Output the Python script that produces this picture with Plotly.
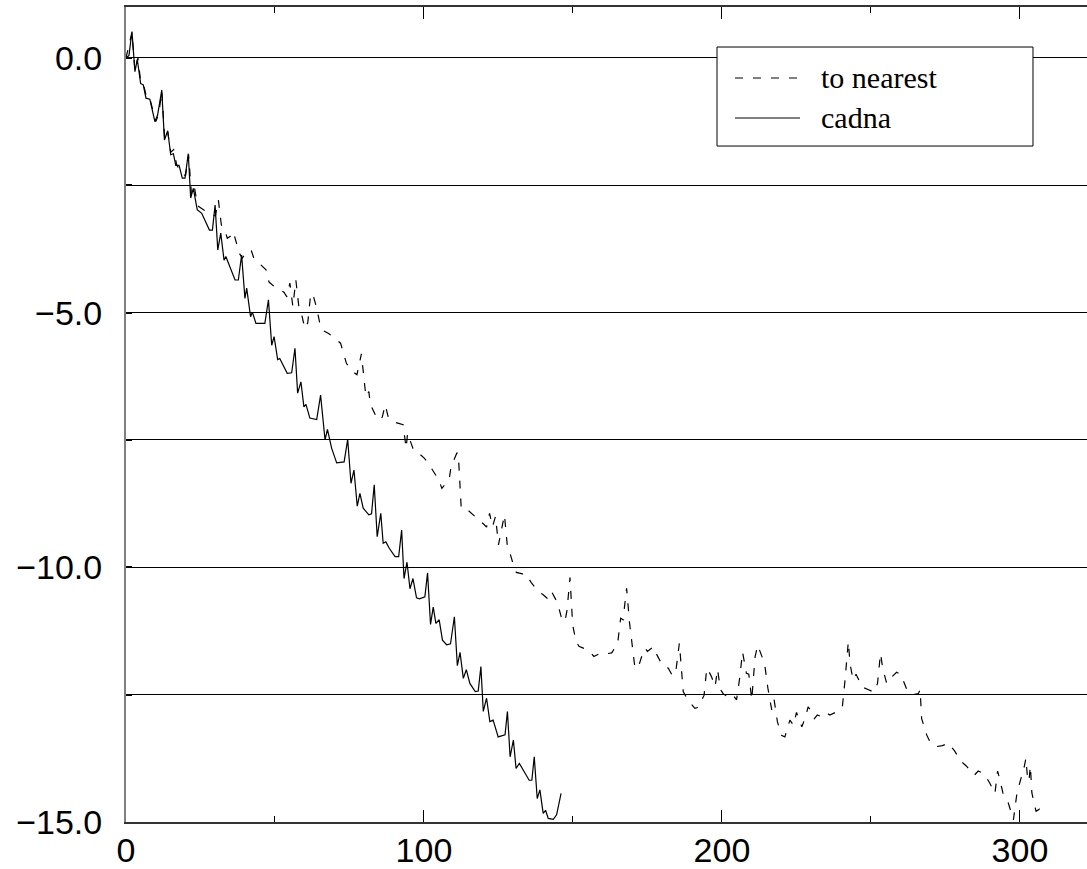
import plotly.graph_objects as go

# ---- data ----
cadna_x = [0, 1, 2, 3, 3.8, 4.9, 5.8, 6.7, 8, 9.7, 10.6, 12, 12.9, 14, 15, 15.9, 16.7, 17.8, 18.9, 19.8,
           20.9, 21.7, 22.6, 23.9, 25.4, 28, 29, 29.9, 30.8, 31.8, 32.9, 33.5, 36.6, 37.7, 38.8, 39.9,
           40.5, 41.8, 42.4, 43.6, 46.6, 47.8, 48.9, 49.7, 50.9, 51.6, 54.1, 55.6, 56.7, 57.6, 58.7,
           59.7, 60.4, 61.7, 64, 65.3, 66.8, 67.6, 69, 70.7, 73.2, 74.4, 75.5, 76.5, 77.6, 78.5, 79.6,
           81.5, 82.4, 83.3, 84.3, 85.5, 86.3, 87.2, 88.4, 90.3, 91.5, 92.5, 93.3, 94.3, 95.3, 96.3,
           97.5, 98.5, 100.3, 101.2, 102.2, 103.1, 104, 105.1, 106.2, 107.6, 108.9, 110.2, 111.2,
           112.1, 113.2, 114.2, 115.4, 117.2, 118.2, 119.1, 119.9, 121, 122.1, 123.2, 124.9, 127.2,
           128, 128.9, 130, 130.9, 132, 133.3, 135.3, 136.2, 137, 138, 138.9, 140, 140.8, 141.7,
           143.4, 144.5, 146]
cadna_y = [0, 0.05, 0.52, -0.27, -0.03, -0.5, -0.53, -0.79, -0.81, -1.25, -1.12, -0.63, -1.61, -1.43,
           -1.9, -1.88, -2.11, -2.11, -2.36, -2.36, -1.88, -2.75, -2.56, -2.98, -3.05, -3.38, -3.38,
           -2.89, -3.77, -3.44, -3.97, -3.9, -4.36, -4.36, -3.87, -4.72, -4.52, -5.08, -4.99, -5.21,
           -5.21, -4.75, -5.64, -5.47, -5.92, -5.9, -6.19, -6.18, -5.7, -6.58, -6.36, -6.85, -6.8,
           -7.07, -7.1, -6.62, -7.5, -7.29, -7.66, -7.95, -7.93, -7.49, -8.35, -8.09, -8.8, -8.55,
           -8.84, -8.97, -8.95, -8.38, -9.4, -8.94, -9.53, -9.5, -9.63, -9.79, -9.79, -9.27, -10.22,
           -9.9, -10.42, -10.22, -10.6, -10.62, -10.58, -10.11, -11.12, -10.78, -11.1, -11.03, -11.43,
           -11.52, -11.5, -10.97, -11.93, -11.67, -12.18, -12.01, -12.28, -12.44, -12.43, -11.95,
           -12.83, -12.57, -13.03, -13.0, -13.33, -13.29, -12.83, -13.72, -13.39, -13.95, -13.85,
           -13.98, -14.18, -14.18, -13.72, -14.54, -14.37, -14.83, -14.77, -14.93, -14.95, -14.86,
           -14.44]

nearest_x = [0, 2, 3, 4, 5, 6, 7, 8, 10, 11, 12, 13, 14, 15, 16, 17, 19, 20, 21, 22, 23, 24, 26, 28,
             30, 31, 32, 33, 34, 35, 36, 37, 38, 39, 40, 42, 43, 45, 47, 48, 50, 51, 53, 54, 55, 56,
             57, 58, 59, 60, 61, 62, 63, 64, 65, 66, 68, 70, 72, 73, 74, 76, 77.5, 79, 80, 80.5,
             81.5, 82, 84, 85, 86, 87, 88, 90, 93, 94, 94.5, 95.5, 96.5, 98, 100, 101.5, 103, 105,
             106, 107.3, 108.5, 109, 110, 111, 111.5, 112, 112.5, 114, 116, 118, 120, 121, 122, 123,
             124, 125, 126, 127, 128, 129, 130, 131, 133, 134, 136, 137, 138, 140, 141, 142, 143,
             144.3, 145.5, 146.5, 147.5, 148, 149, 149.9, 151, 152, 154, 155.7, 157, 159, 161, 163,
             165, 166, 166.8, 168, 169, 170, 170.8, 172, 173, 174.2, 175, 177, 178, 180, 182, 183.4,
             184.5, 185.7, 186.5, 187, 188.5, 190.9, 192, 194, 194.9, 195.4, 196.5, 197.7, 198.5,
             199.5, 200.4, 202, 203.5, 204.9, 206, 206.9, 208.2, 209, 210, 211.1, 212, 213, 214.3,
             215.4, 216.7, 217.5, 218.6, 220, 221.1, 222.8, 224, 225, 225.8, 226.8, 228, 228.9,
             230.1, 231, 232, 233.4, 235, 236.2, 238, 240.4, 241.3, 242.4, 243, 244, 245, 247.1, 249,
             251, 252.2, 253.2, 254, 255.3, 257, 258.6, 260, 262.4, 264, 265.9, 266.5, 267, 268.7,
             270, 272, 274, 276, 278, 280.4, 282, 284.7, 286, 288, 289.9, 291.6, 292.5, 293, 294.3,
             296, 297.8, 299, 300.5, 301.5, 302, 302.5, 303, 303.5, 304, 305.4, 306.5, 307]
nearest_y = [0, 0.5, -0.25, 0, -0.5, -0.55, -0.8, -0.8, -1.25, -1.1, -0.65, -1.6, -1.45, -1.85, -1.8,
             -2.1, -2.3, -2.3, -1.9, -2.7, -2.55, -2.9, -2.98, -3.05, -3.1, -2.79, -3.28, -3.35,
             -3.54, -3.5, -3.41, -3.6, -3.83, -3.93, -3.85, -3.77, -3.95, -4.05, -4.16, -4.4, -4.5,
             -4.52, -4.6, -4.69, -4.42, -4.88, -4.36, -4.88, -5.05, -5.31, -5.2, -4.62, -4.7, -4.91,
             -5.2, -5.35, -5.41, -5.5, -5.6, -5.8, -6.0, -6.15, -6.22, -5.81, -6.45, -6.65, -6.55,
             -6.8, -7.05, -7.11, -7.05, -6.81, -7.05, -7.15, -7.2, -7.66, -7.37, -7.55, -7.7, -7.75,
             -7.85, -7.96, -8.1, -8.29, -8.45, -8.36, -8.25, -8.06, -7.9, -7.76, -7.76, -8.45, -8.84,
             -8.84, -8.94, -9.05, -9.15, -9.21, -8.94, -9.2, -9.0, -9.56, -9.25, -8.97, -9.6, -9.75,
             -9.95, -10.1, -10.13, -10.12, -10.3, -10.38, -10.45, -10.54, -10.6, -10.64, -10.5,
             -10.64, -10.85, -11.07, -11.0, -10.84, -10.2, -11.13, -11.45, -11.55, -11.6, -11.66,
             -11.75, -11.69, -11.7, -11.68, -11.49, -11.0, -11.03, -10.41, -11.1, -11.53, -11.98,
             -11.95, -11.76, -11.59, -11.65, -11.56, -11.7, -11.92, -11.98, -12.13, -12.05, -11.49,
             -12.02, -12.44, -12.6, -12.77, -12.75, -12.51, -11.98, -12.02, -12.15, -12.34, -12.0,
             -12.4, -12.48, -12.55, -12.5, -12.6, -12.15, -11.66, -12.08, -12.1, -12.6, -11.76,
             -11.53, -11.7, -11.89, -12.37, -12.8, -12.6, -13.03, -13.3, -13.33, -13.0, -13.1,
             -12.85, -12.97, -13.13, -12.95, -12.74, -12.83, -12.97, -12.9, -12.93, -12.85, -12.9,
             -12.85, -12.74, -12.21, -11.46, -11.9, -12.21, -12.1, -12.35, -12.4, -12.45, -12.28,
             -11.69, -12.0, -12.28, -12.15, -12.06, -12.1, -12.45, -12.5, -12.48, -12.4, -12.97,
             -13.29, -13.45, -13.52, -13.5, -13.45, -13.6, -13.82, -13.9, -14.08, -14.0, -14.05,
             -14.24, -14.44, -14.0, -14.11, -14.43, -14.61, -14.96, -14.43, -14.14, -13.9, -13.75,
             -14.1, -14.2, -13.9, -14.43, -14.79, -14.75, -14.85]

series_names = ["to nearest", "cadna"]
y_tick_vals = [-15, -12.5, -10, -7.5, -5, -2.5, 0]
y_tick_text = ["\u221215.0", "", "\u221210.0", "", "\u22125.0", "", "0.0"]
x_tick_vals = [0, 100, 200, 300]

NEAREST_DASH = "8px,10px"

# ---- figure ----
fig = go.Figure()
fig.add_trace(go.Scatter(x=nearest_x, y=nearest_y, mode="lines", name=series_names[0],
                         line=dict(color="black", width=1.2, dash=NEAREST_DASH)))
fig.add_trace(go.Scatter(x=cadna_x, y=cadna_y, mode="lines", name=series_names[1],
                         line=dict(color="black", width=1.2)))

axis_font = dict(family="Liberation Sans, Arial, sans-serif", size=34, color="black")
legend_font = dict(family="Liberation Serif, Times New Roman, serif", size=30, color="black")

# legend drawn as a boxed key (paper coordinates)
shapes = [
    dict(type="rect", xref="paper", yref="paper", x0=0.615, x1=0.9438, y0=0.8294, y1=0.9509,
         fillcolor="white", line=dict(color="black", width=1), layer="above"),
    dict(type="line", xref="paper", yref="paper", x0=0.6337, x1=0.7014, y0=0.9129, y1=0.9129,
         line=dict(color="black", width=1.2, dash=NEAREST_DASH), layer="above"),
    dict(type="line", xref="paper", yref="paper", x0=0.6337, x1=0.7014, y0=0.8638, y1=0.8638,
         line=dict(color="black", width=1.2), layer="above"),
]
annotations = [
    dict(text=series_names[0], xref="paper", yref="paper", x=0.7211, y=0.9129,
         xanchor="left", yanchor="middle", showarrow=False, font=legend_font),
    dict(text=series_names[1], xref="paper", yref="paper", x=0.7211, y=0.8650,
         xanchor="left", yanchor="middle", showarrow=False, font=legend_font),
]

fig.update_layout(
    width=1087, height=869,
    margin=dict(l=126, r=0, t=7, b=47, autoexpand=False),
    paper_bgcolor="white", plot_bgcolor="white",
    showlegend=False,
    shapes=shapes,
    annotations=annotations,
    xaxis=dict(
        range=[0, 322.5], tickvals=x_tick_vals, ticks="inside", ticklen=12, tickwidth=1,
        tickcolor="black", showline=True, linecolor="#333333", linewidth=2, mirror="ticks",
        showgrid=False, zeroline=False, tickfont=axis_font, ticklabelstandoff=-3,
        automargin=False,
        minor=dict(dtick=50, tick0=0, ticks="inside", ticklen=6, tickcolor="black", showgrid=False),
    ),
    yaxis=dict(
        range=[-15, 1], tickvals=y_tick_vals, ticktext=y_tick_text, ticks="inside", ticklen=6,
        tickwidth=2, tickcolor="black", showline=True, linecolor="#808080", linewidth=2,
        showgrid=True, gridcolor="black", gridwidth=1, zeroline=False, tickfont=axis_font,
        ticklabelstandoff=15, automargin=False,
    ),
)

fig.write_html("out.html", config={"displayModeBar": False},
               post_script="document.body.style.margin='0';")
